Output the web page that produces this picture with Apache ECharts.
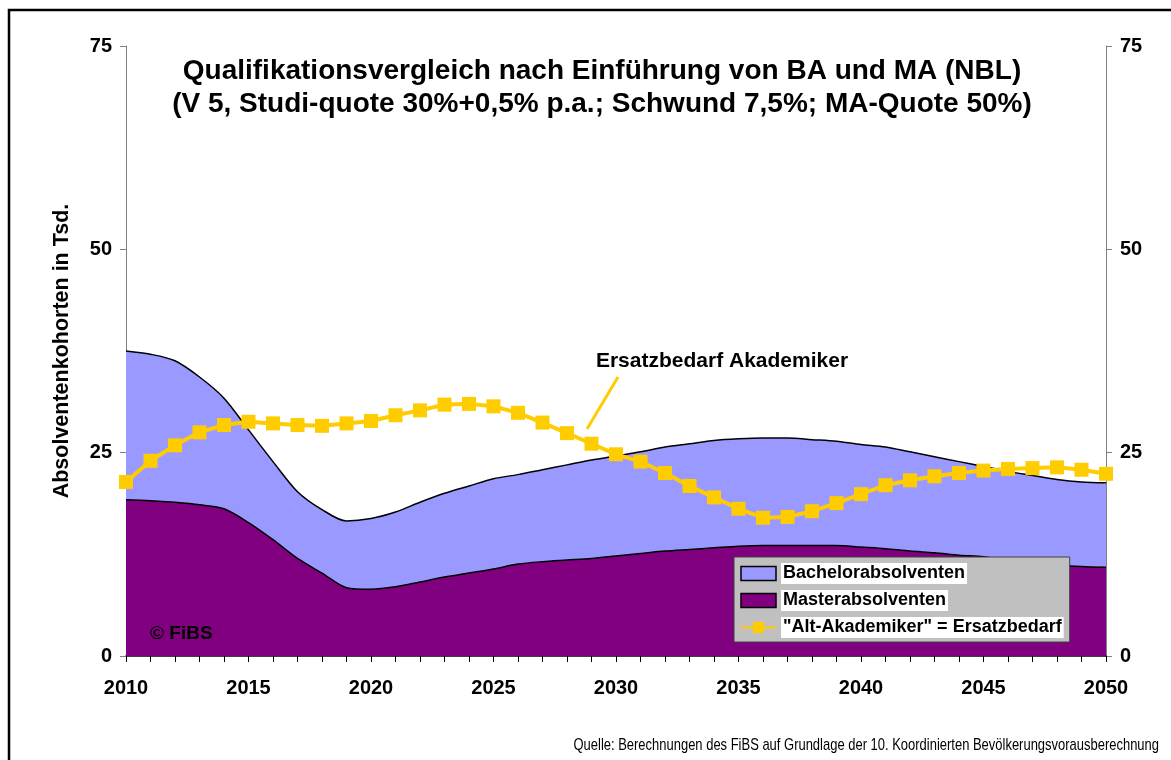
<!DOCTYPE html>
<html>
<head>
<meta charset="utf-8">
<script src="https://cdn.jsdelivr.net/npm/echarts@6/dist/echarts.min.js"></script>
<style>
  html, body { margin: 0; padding: 0; background: #fff; }
  #chart-area { width: 1171px; height: 760px; }
</style>
</head>
<body>
<div id="chart-area"></div>
<script>
// Jahre 2010 .. 2050
const years = ['2010','2011','2012','2013','2014','2015','2016','2017','2018','2019',
  '2020','2021','2022','2023','2024','2025','2026','2027','2028','2029',
  '2030','2031','2032','2033','2034','2035','2036','2037','2038','2039',
  '2040','2041','2042','2043','2044','2045','2046','2047','2048','2049','2050'];

// Masterabsolventen (unten im Stapel)
const masterData = [19.2, 19.1, 18.9, 18.6, 18.1, 16.4, 14.3, 12.0, 10.2, 8.4,
  8.2, 8.5, 9.1, 9.7, 10.2, 10.7, 11.3, 11.6, 11.8, 12.0,
  12.3, 12.6, 12.9, 13.1, 13.3, 13.5, 13.6, 13.6, 13.6, 13.6,
  13.4, 13.2, 12.9, 12.7, 12.4, 12.2, 11.8, 11.5, 11.2, 11.0, 10.9];

// Bachelorabsolventen (oben im Stapel)
const bachelorData = [18.3, 18.0, 17.4, 15.7, 13.6, 11.4, 9.6, 8.2, 7.8, 8.2,
  8.7, 9.2, 9.8, 10.3, 10.7, 11.1, 11.0, 11.3, 11.7, 12.1,
  12.3, 12.5, 12.8, 13.0, 13.2, 13.2, 13.2, 13.2, 13.0, 12.8,
  12.6, 12.5, 12.2, 11.8, 11.5, 11.1, 10.9, 10.7, 10.5, 10.4, 10.4];

// "Alt-Akademiker" = Ersatzbedarf
const ersatzData = [21.4, 24.0, 25.9, 27.5, 28.4, 28.8, 28.6, 28.4, 28.3, 28.6,
  28.9, 29.6, 30.2, 30.9, 31.0, 30.7, 29.9, 28.7, 27.4, 26.1,
  24.8, 23.9, 22.5, 20.9, 19.5, 18.1, 17.0, 17.1, 17.8, 18.8,
  19.9, 21.0, 21.6, 22.1, 22.5, 22.8, 23.0, 23.1, 23.2, 22.9, 22.4];

const yTicks = [0, 25, 50, 75];

const FONT = '"Liberation Sans", Arial, sans-serif';

const myChart = echarts.init(document.getElementById('chart-area'));

const yAxisBase = (pos) => ({
  type: 'value',
  position: pos,
  min: yTicks[0],
  max: yTicks[yTicks.length - 1],
  interval: 25,
  splitLine: { show: false },
  axisLine: { show: true, lineStyle: { color: '#808080', width: 1 } },
  axisTick: { show: true, length: 6, lineStyle: { color: '#808080' } },
  axisLabel: {
    margin: 14,
    color: '#000',
    fontFamily: FONT,
    fontWeight: 'bold',
    fontSize: 20
  }
});

const option = {
  animation: false,
  textStyle: { fontFamily: FONT },
  grid: { left: 126, right: 65, top: 46, bottom: 104, containLabel: false },
  title: {
    text: 'Qualifikationsvergleich nach Einführung von BA und MA (NBL)\n(V 5, Studi-quote 30%+0,5% p.a.; Schwund 7,5%; MA-Quote 50%)',
    left: 597,
    textAlign: 'center',
    top: 50,
    textStyle: {
      fontFamily: FONT,
      fontWeight: 'bold',
      fontSize: 28,
      lineHeight: 33,
      color: '#000'
    }
  },
  legend: {
    orient: 'vertical',
    left: 734,
    top: 557,
    width: 339,
    padding: [6, 6, 4, 6],
    itemGap: 6,
    itemWidth: 35,
    itemHeight: 14,
    backgroundColor: '#c0c0c0',
    borderColor: '#404040',
    borderWidth: 1,
    data: [
      { name: 'Bachelorabsolventen', icon: 'rect', itemStyle: { color: '#9999ff', borderColor: '#000', borderWidth: 1.5 } },
      { name: 'Masterabsolventen', icon: 'rect', itemStyle: { color: '#800080', borderColor: '#000', borderWidth: 1.5 } },
      { name: '"Alt-Akademiker" = Ersatzbedarf' }
    ],
    textStyle: {
      fontFamily: FONT,
      fontWeight: 'bold',
      fontSize: 18,
      color: '#000',
      backgroundColor: '#fff',
      padding: [2, 2, 1, 2]
    }
  },
  xAxis: {
    type: 'category',
    data: years,
    boundaryGap: false,
    axisLine: { show: true, lineStyle: { color: '#000', width: 1.5 } },
    axisTick: { show: true, interval: 0, length: 6, lineStyle: { color: '#000' } },
    axisLabel: {
      interval: 4,
      margin: 22,
      color: '#000',
      fontFamily: FONT,
      fontWeight: 'bold',
      fontSize: 20
    },
    splitLine: { show: false }
  },
  yAxis: [
    Object.assign(yAxisBase('left'), {
      name: 'Absolventenkohorten in Tsd.',
      nameLocation: 'middle',
      nameGap: 53,
      nameRotate: 90,
      nameTextStyle: { fontFamily: FONT, fontWeight: 'bold', fontSize: 21.5, color: '#000' }
    }),
    yAxisBase('right')
  ],
  series: [
    {
      name: 'Masterabsolventen',
      type: 'line',
      stack: 'absolventen',
      data: masterData,
      smooth: 0.3,
      symbol: 'none',
      color: '#800080',
      lineStyle: { color: '#000', width: 1.5 },
      areaStyle: { color: '#800080', opacity: 1 },
      itemStyle: { color: '#800080', borderColor: '#000', borderWidth: 1.5 },
      z: 2
    },
    {
      name: 'Bachelorabsolventen',
      type: 'line',
      stack: 'absolventen',
      data: bachelorData,
      smooth: 0.3,
      symbol: 'none',
      color: '#9999ff',
      lineStyle: { color: '#000', width: 1.5 },
      areaStyle: { color: '#9999ff', opacity: 1 },
      itemStyle: { color: '#9999ff', borderColor: '#000', borderWidth: 1.5 },
      z: 1
    },
    {
      name: '"Alt-Akademiker" = Ersatzbedarf',
      type: 'line',
      data: ersatzData,
      symbol: 'rect',
      symbolSize: 14,
      color: '#ffcc00',
      lineStyle: { color: '#ffcc00', width: 4 },
      itemStyle: { color: '#ffcc00' },
      z: 5
    }
  ],
  graphic: [
    // Rahmen
    { type: 'polyline', shape: { points: [[9, 800], [9, 10], [1200, 10]] },
      style: { stroke: '#000', lineWidth: 2.5, fill: null }, silent: true },
    { type: 'text', left: 150, top: 624,
      style: { text: '© FiBS', font: 'bold 19px ' + FONT, fill: '#000' }, z: 10 },
    { type: 'text', x: 722, y: 361,
      style: { text: 'Ersatzbedarf Akademiker', font: 'bold 21px ' + FONT, fill: '#000',
        textAlign: 'center', textVerticalAlign: 'middle' }, z: 10 },
    { type: 'line', shape: { x1: 618, y1: 377, x2: 587, y2: 429 },
      style: { stroke: '#ffcc00', lineWidth: 3 }, z: 10 },
    { type: 'text', x: 1159, y: 745, scaleX: 0.763, originX: 0, originY: 0,
      style: { text: 'Quelle: Berechnungen des FiBS auf Grundlage der 10. Koordinierten Bevölkerungsvorausberechnung',
        font: '17px "Liberation Sans", sans-serif', fill: '#000',
        textAlign: 'right', textVerticalAlign: 'middle' } }
  ]
};

option && myChart.setOption(option);
</script>
</body>
</html>
